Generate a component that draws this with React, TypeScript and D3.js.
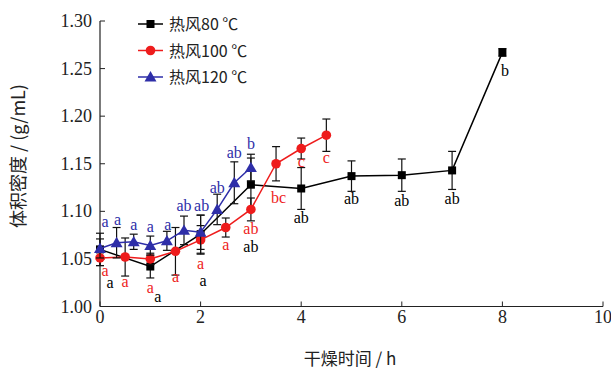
import * as d3 from 'd3';

// 热风 80 ℃
const t80 = [0, 1, 2, 3, 4, 5, 6, 7, 8];
const v80 = [1.060, 1.042, 1.076, 1.128, 1.124, 1.137, 1.138, 1.143, 1.267];
const e80 = [0.017, 0.012, 0.020, 0.028, 0.022, 0.016, 0.017, 0.020, 0.004];
const l80 = ['a', 'a', 'a', 'ab', 'ab', 'ab', 'ab', 'ab', 'b'];
const ly80 = [1.025, 1.010, 1.027, 1.062, 1.093, 1.113, 1.111, 1.113, 1.247];
const lx80 = [0.2, 1.15, 2.05, 3, 4, 5, 6, 7, 8.05];

// 热风 100 ℃
const t100 = [0, 0.5, 1, 1.5, 2, 2.5, 3, 3.5, 4, 4.5];
const v100 = [1.051, 1.052, 1.050, 1.058, 1.070, 1.083, 1.102, 1.150, 1.166, 1.180];
const e100 = [0.008, 0.020, 0.006, 0.025, 0.015, 0.010, 0.012, 0.018, 0.011, 0.017];
const l100 = ['a', 'a', 'a', 'a', 'a', 'a', 'ab', 'bc', 'c', 'c'];
const ly100 = [1.037, 1.026, 1.019, 1.031, 1.045, 1.065, 1.081, 1.114, 1.152, 1.156];
const lx100 = [0.1, 0.5, 1, 1.5, 2, 2.5, 3, 3.55, 4, 4.5];

// 热风 120 ℃
const t120 = [0, 0.33, 0.67, 1, 1.33, 1.67, 2, 2.33, 2.67, 3];
const v120 = [1.061, 1.067, 1.068, 1.064, 1.069, 1.080, 1.078, 1.102, 1.130, 1.146];
const e120 = [0.010, 0.016, 0.008, 0.010, 0.010, 0.015, 0.018, 0.016, 0.022, 0.014];
const l120 = ['a', 'a', 'a', 'a', 'a', 'ab', 'ab', 'ab', 'ab', 'b'];
const ly120 = [1.089, 1.091, 1.086, 1.084, 1.086, 1.106, 1.106, 1.125, 1.161, 1.171];
const lx120 = [0.1, 0.35, 0.67, 1, 1.35, 1.67, 2.02, 2.33, 2.67, 3];

const xTicks = [0, 2, 4, 6, 8, 10];
const yTicks = [1.0, 1.05, 1.1, 1.15, 1.2, 1.25, 1.3];

const series = [
  { name: '热风80 ℃', color: '#000000', shape: 'square', t: t80, v: v80, e: e80, l: l80, ly: ly80, lx: lx80 },
  { name: '热风100 ℃', color: '#ee1c1c', shape: 'circle', t: t100, v: v100, e: e100, l: l100, ly: ly100, lx: lx100 },
  { name: '热风120 ℃', color: '#2e2ea8', shape: 'triangle', t: t120, v: v120, e: e120, l: l120, ly: ly120, lx: lx120 },
];

const W = 611;
const H = 372;
const x = d3.scaleLinear().domain([0, 10]).range([100, 603]);
const y = d3.scaleLinear().domain([1.0, 1.3]).range([306.5, 21]);

const serif = "'Liberation Serif', 'DejaVu Serif', serif";
const cjk = "'Noto Sans CJK SC', sans-serif";

function Marker({ shape, cx, cy, color }: { shape: string; cx: number; cy: number; color: string }) {
  if (shape === 'square') return <rect x={cx - 4} y={cy - 4} width={8} height={8} fill={color} />;
  if (shape === 'circle') return <circle cx={cx} cy={cy} r={4.8} fill={color} />;
  const tri = d3.symbol().type(d3.symbolTriangle).size(62)();
  return <path d={tri || ''} transform={`translate(${cx},${cy + 1})`} fill={color} />;
}

export default function App() {
  return (
    <svg width={W} height={H} style={{ position: 'absolute', left: 0, top: 0, background: '#fff' }}>
      {/* axes */}
      <line x1={x(0)} x2={x(10)} y1={y(1.0)} y2={y(1.0)} stroke="#222" strokeWidth={1.2} />
      <line x1={x(0)} x2={x(0)} y1={y(1.0)} y2={y(1.3)} stroke="#222" strokeWidth={1.2} />
      {xTicks.map(t => (
        <g key={'xt' + t}>
          <line x1={x(t)} x2={x(t)} y1={y(1.0)} y2={y(1.0) - 5} stroke="#222" strokeWidth={1} />
          <text x={x(t)} y={323} textAnchor="middle" style={{ fontFamily: serif }} fontSize={18} fill="#222">{t}</text>
        </g>
      ))}
      {yTicks.map(t => (
        <g key={'yt' + t}>
          <line x1={x(0)} x2={x(0) + 5} y1={y(t)} y2={y(t)} stroke="#222" strokeWidth={1} />
          <text x={92} y={y(t) + 6} textAnchor="end" style={{ fontFamily: serif }} fontSize={18} fill="#222">{t.toFixed(2)}</text>
        </g>
      ))}
      <text x={350} y={365} textAnchor="middle" style={{ fontFamily: cjk }} fontSize={17} fill="#222">干燥时间 / h</text>
      <text transform="translate(25,156) rotate(-90)" textAnchor="middle" style={{ fontFamily: cjk }} fontSize={18} fill="#222">体积密度 / (g/mL)</text>

      {/* series */}
      {series.map(s => {
        const pts = s.t.map((t, i) => [x(t), y(s.v[i])] as [number, number]);
        return (
          <g key={s.name}>
            <path d={d3.line()(pts) || ''} fill="none" stroke={s.color} strokeWidth={1.5} />
            {s.t.map((t, i) => {
              const cx = x(t);
              const y1 = y(s.v[i] + s.e[i]);
              const y2 = y(s.v[i] - s.e[i]);
              return (
                <g key={i} stroke="#111" strokeWidth={1.2}>
                  <line x1={cx} x2={cx} y1={y1} y2={y2} />
                  <line x1={cx - 4} x2={cx + 4} y1={y1} y2={y1} />
                  <line x1={cx - 4} x2={cx + 4} y1={y2} y2={y2} />
                </g>
              );
            })}
            {pts.map((p, i) => <Marker key={i} shape={s.shape} cx={p[0]} cy={p[1]} color={s.color} />)}
          </g>
        );
      })}

      {/* significance letters */}
      {series.map(s => s.l.map((lab, i) => (
        <text key={s.name + 'l' + i} x={x(s.lx[i])} y={y(s.ly[i]) + 5} textAnchor="middle"
          style={{ fontFamily: serif }} fontSize={16} fill={s.color}>{lab}</text>
      )))}

      {/* legend */}
      {series.map((s, i) => {
        const ly = 24 + i * 26.5;
        return (
          <g key={'lg' + i}>
            <line x1={138} x2={163} y1={ly} y2={ly} stroke={s.color} strokeWidth={1.5} />
            <Marker shape={s.shape} cx={150.5} cy={ly} color={s.color} />
            <text x={169} y={ly + 6} style={{ fontFamily: cjk }} fontSize={16} fill="#222">{s.name}</text>
          </g>
        );
      })}
    </svg>
  );
}
